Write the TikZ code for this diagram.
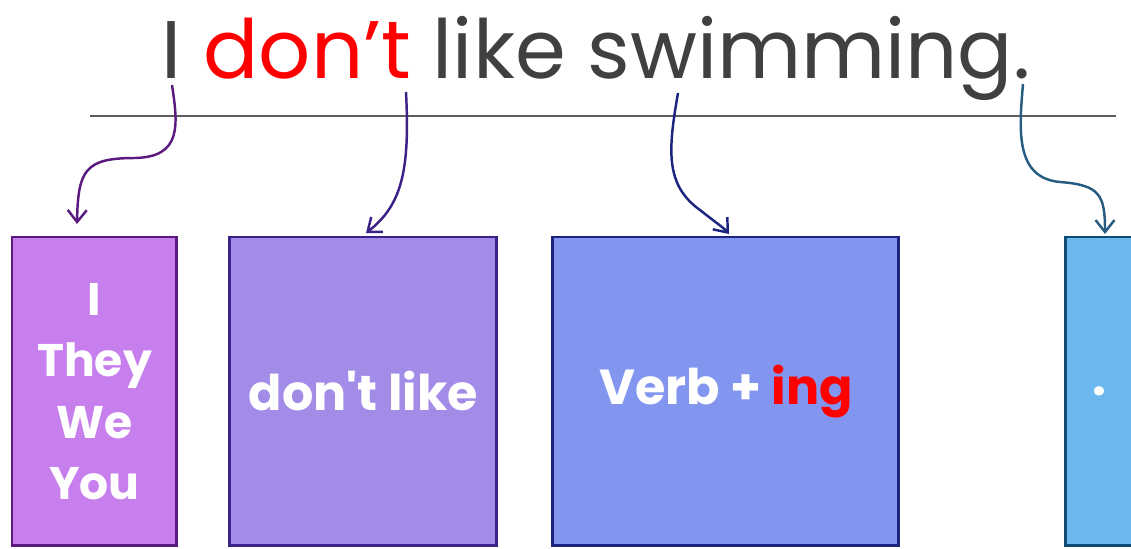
\documentclass[tikz,border=0pt]{standalone}
\usepackage{fontspec}
\setmainfont{Poppins}[Ligatures=TeXOff]
\usetikzlibrary{positioning,arrows.meta}

\definecolor{titlegray}{HTML}{404040}
\definecolor{fillA}{HTML}{C77FEE}
\definecolor{lineA}{HTML}{5A1A80}
\definecolor{fillB}{HTML}{A38CE8}
\definecolor{lineB}{HTML}{3B2188}
\definecolor{fillC}{HTML}{8396EF}
\definecolor{lineC}{HTML}{1B2580}
\definecolor{fillD}{HTML}{6BB8EE}
\definecolor{lineD}{HTML}{0F4A73}

\begin{document}
\begin{tikzpicture}[
    x=0.02cm, y=-0.02cm,
    node distance=1.06cm,
    every node/.style={font=\bfseries\fontsize{28}{35}\selectfont, text=white},
    box/.style={draw, line width=1.7pt, minimum height=6.18cm, align=center,
        inner sep=0pt, outer sep=0pt},
    link/.style={line width=1.4pt, -{Straight Barb[length=2.4mm,width=3.8mm]}}
]
\useasboundingbox (0,0) rectangle (1131,548);
\clip (0,0) rectangle (1131,548);

% 标题
\node[anchor=base, text=titlegray, font=\fontsize{46.5}{56}\selectfont] (title) at (596,78)
    {I \textcolor{red}{don’t} like swimming.};
\draw[titlegray!85, line width=0.8pt] (90,116) -- (1116,116);

% 方框
\node[box, fill=fillA, draw=lineA, minimum width=3.3cm, anchor=north west,
    font=\bfseries\fontsize{26}{35}\selectfont] (subj) at (12,237) {I\\They\\We\\You};
\node[box, fill=fillB, draw=lineB, minimum width=5.34cm, right=of subj] (neg) {don't like};
\node[box, fill=fillC, draw=lineC, minimum width=6.92cm, right=1.12cm of neg] (verb)
    {Verb + \textcolor{red}{ing}};
\node[box, fill=fillD, draw=lineD, minimum width=1.36cm, right=3.34cm of verb] (dot) {.};

% 箭头起点和终点
\coordinate (s1) at (172,85);
\coordinate (s2) at (406,92);
\coordinate (s3) at (678,93);
\coordinate (s4) at (1023,84);
\coordinate (t1) at (77,224);
\coordinate (t2) at (366,233);
\coordinate (t3) at (729,234);
\coordinate (t4) at (1105,234);

% 箭头
\draw[link, lineA] (s1) .. controls (178,125) and (182,157) .. (135,158)
    .. controls (85,158) and (78,170) .. (t1);
\draw[link, lineB] (s2) .. controls (410,170) and (402,205) .. (t2);
\draw[link, lineC] (s3) .. controls (668,150) and (665,185) .. (700,210)
    .. controls (715,222) and (724,228) .. (t3);
\draw[link, lineD!90!white] (s4) .. controls (1019,130) and (1015,178) .. (1060,182)
    .. controls (1100,185) and (1105,195) .. (t4);

\end{tikzpicture}
\end{document}
